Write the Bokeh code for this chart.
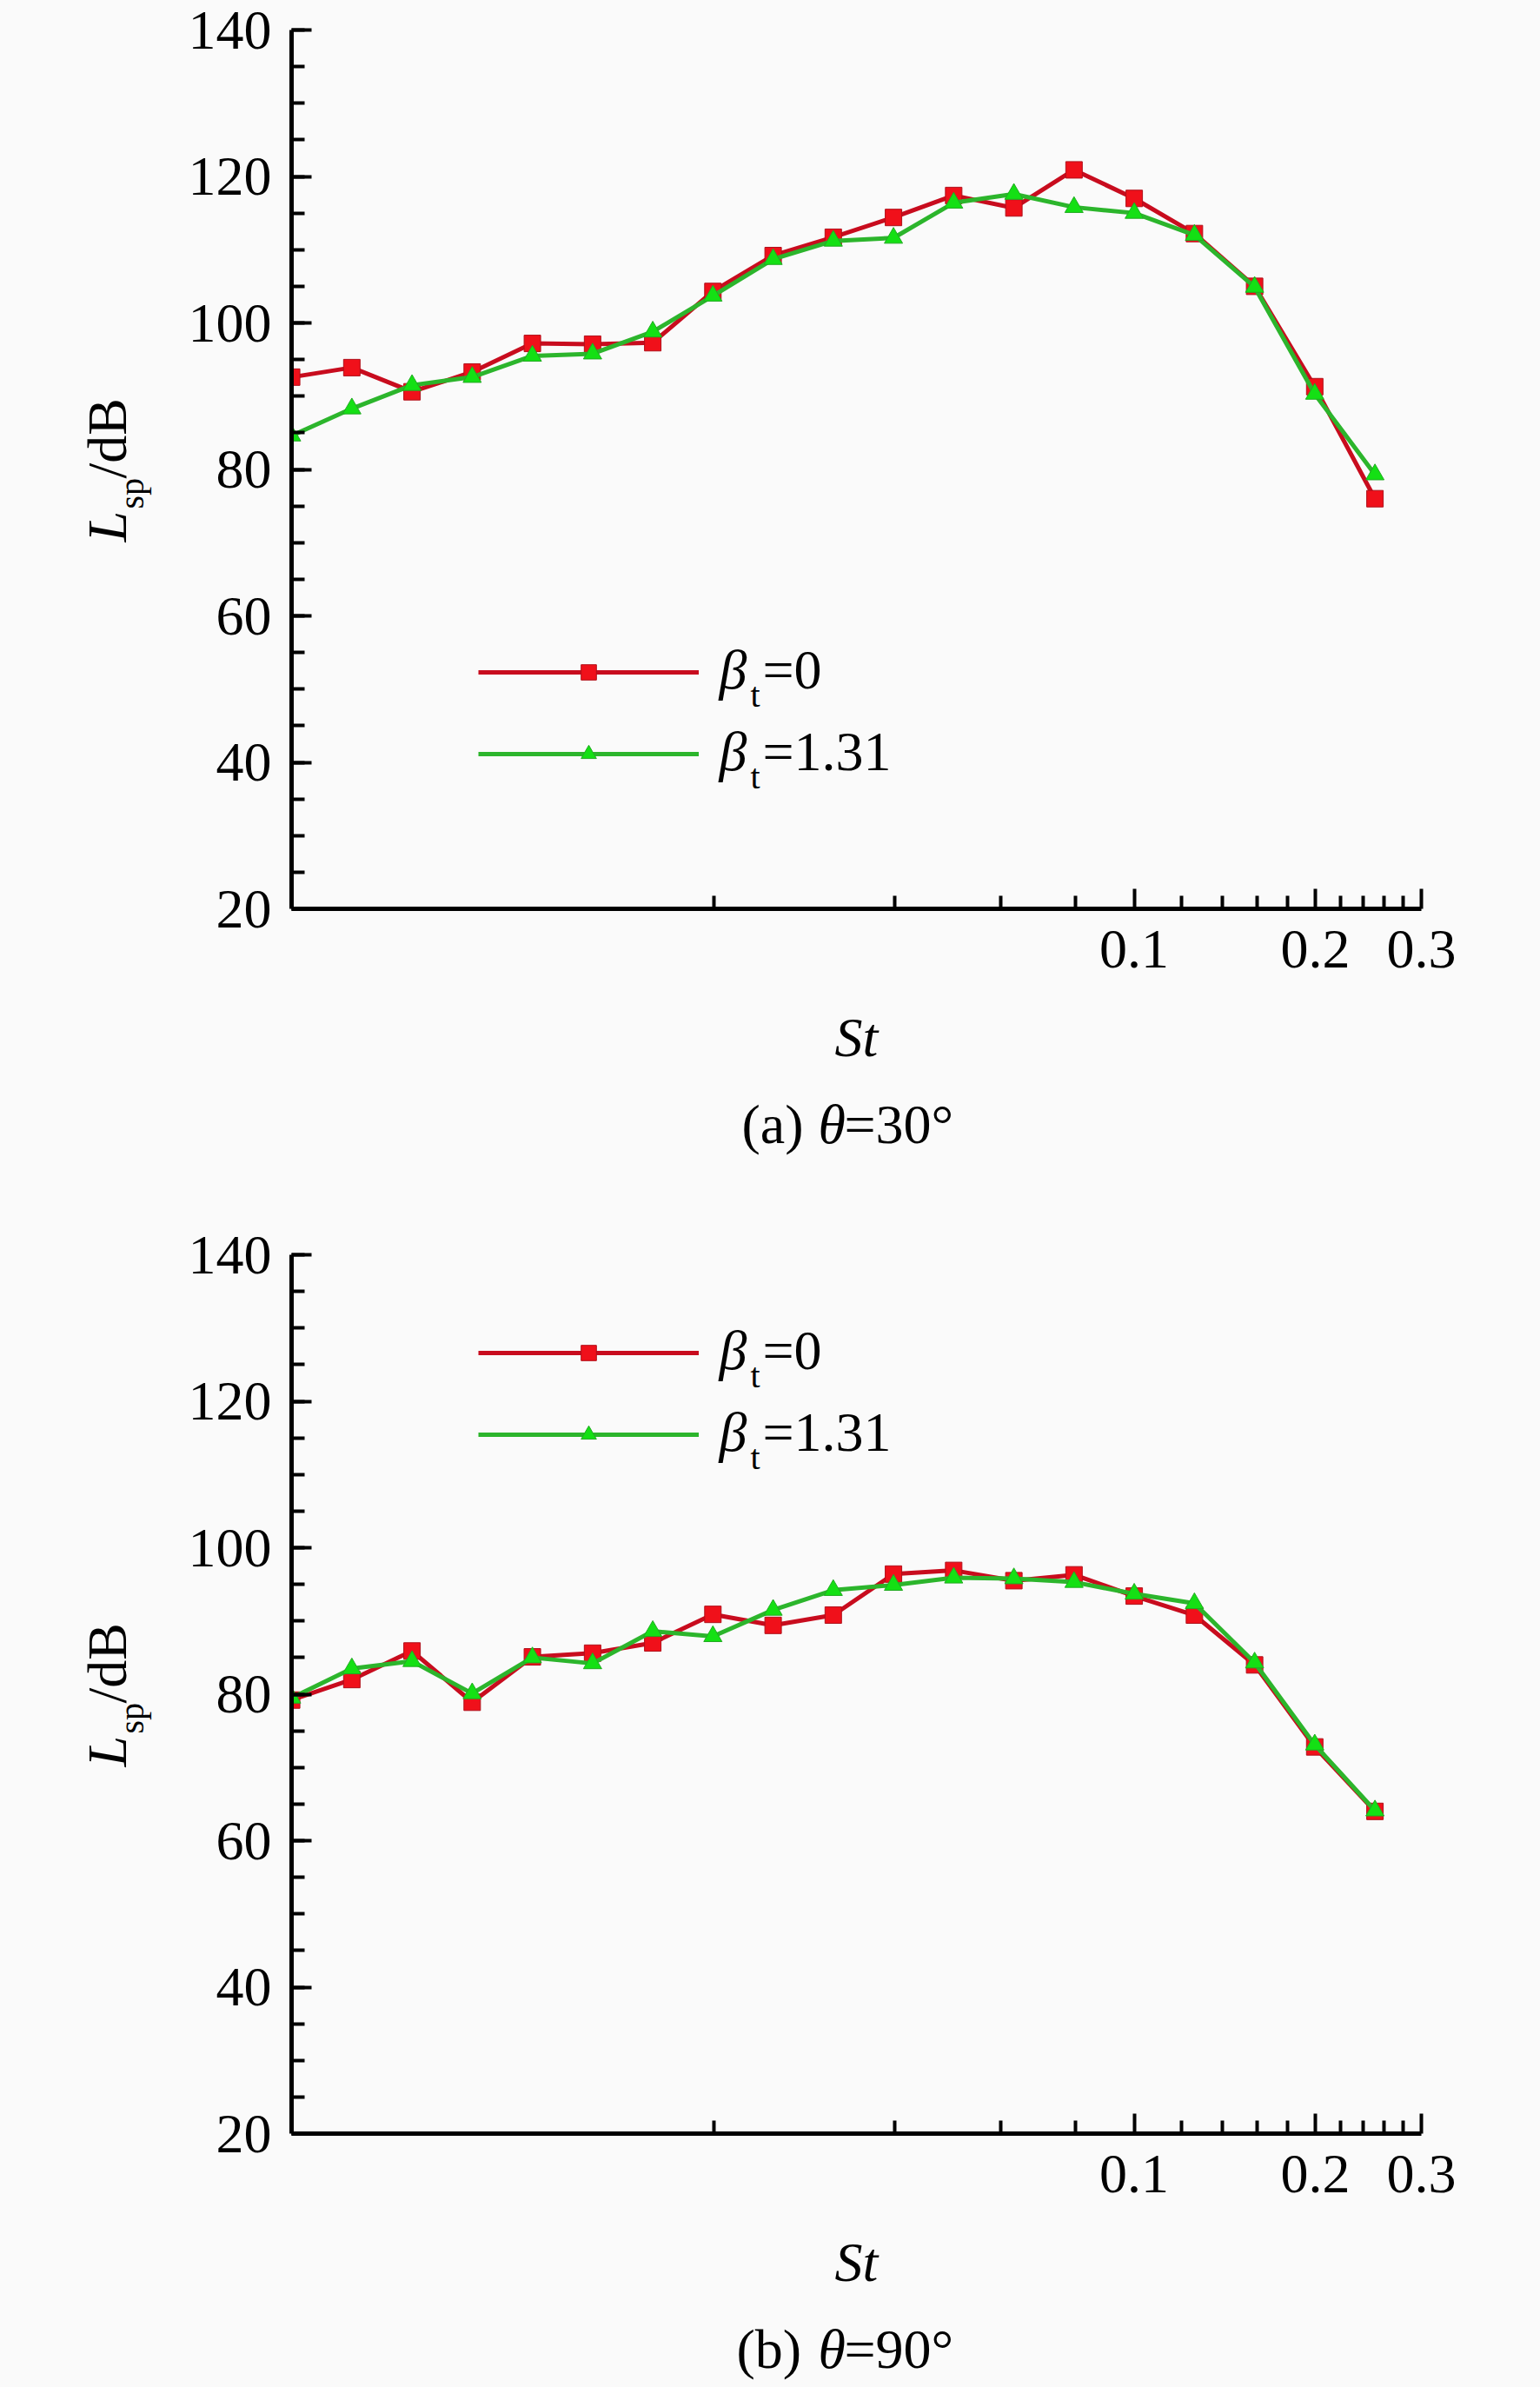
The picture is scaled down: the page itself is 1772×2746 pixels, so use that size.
from bokeh.plotting import figure
from bokeh.models import FixedTicker, Label, Legend, LegendItem, Range1d, Title
from bokeh.layouts import column
from bokeh.embed import file_html
from bokeh.resources import INLINE

# ---------------- data ----------------
st = [0.003981, 0.005012, 0.00631, 0.007943, 0.01, 0.01259, 0.01585, 0.01995,
      0.02512, 0.03162, 0.03981, 0.05012, 0.0631, 0.07943, 0.1, 0.1259,
      0.1585, 0.1995, 0.2512]

a_beta0 = [92.6, 93.9, 90.6, 93.3, 97.2, 97.1, 97.3, 104.3, 109.2, 111.7,
           114.4, 117.4, 115.7, 120.9, 117.0, 112.2, 105.0, 91.3, 76.0]
a_beta131 = [84.6, 88.3, 91.5, 92.6, 95.5, 95.8, 98.8, 103.7, 108.7, 111.2,
             111.6, 116.4, 117.6, 115.8, 115.0, 112.0, 104.9, 90.3, 79.3]

b_beta0 = [79.2, 82.0, 85.9, 78.9, 85.1, 85.6, 87.0, 90.9, 89.4, 90.8,
           96.4, 96.9, 95.5, 96.3, 93.4, 90.8, 84.0, 72.8, 64.0]
b_beta131 = [79.5, 83.5, 84.5, 80.1, 85.0, 84.2, 88.6, 87.9, 91.5, 94.2,
             94.9, 95.9, 95.8, 95.3, 93.7, 92.4, 84.3, 73.1, 64.1]

x_major = [0.1, 0.2, 0.3]
x_minor = [0.02, 0.04, 0.06, 0.08, 0.12, 0.14, 0.16, 0.18,
           0.22, 0.24, 0.26, 0.28]
y_major = [20, 40, 60, 80, 100, 120, 140]
y_minor = [v for v in range(20, 141, 5)]
legend_values = ["0", "1.31"]
panel_tags = ["(a)", "(b)"]
panel_angles = ["=30°", "=90°"]

# ---------------- style ----------------
FONT = "Liberation Serif"
FS = 64
SUB = 40
BG = "#fafafa"
W = 1770
FRAME_W = 1300
FRAME_H = 1011
BORDER_L = 335
RED_LINE = "#c80c1e"
RED_FILL = "#f0101a"
GRN_LINE = "#2cb52c"
GRN_FILL = "#14e014"
MID = 0.35
H64 = 73.0   # text box height bokeh uses at 64px (calibrated)
H40 = 45.6
H10 = 11.4


def lab(p, text, x, y, size=FS, style="normal"):
    p.add_layout(Label(x=x, y=y, x_units="screen", y_units="screen", text=text,
                       text_font=FONT, text_font_size="%dpx" % size,
                       text_font_style=style, text_align="left",
                       text_baseline="middle", text_color="black"))


def side_text(p, side, text, offset, slot, size=FS, style="normal"):
    """Title used as a free text piece in a side panel; slot = its panel thickness."""
    h = {FS: H64, SUB: H40, 10: H10}[size]
    p.add_layout(Title(text=text, align="left", offset=offset,
                       vertical_align="middle", text_font=FONT,
                       text_font_size="%dpx" % size, text_font_style=style,
                       text_color="black", standoff=slot - 2 - h), side)


def panel(red, green, top_border, height, legend_y, idx):
    p = figure(width=W, height=height, x_axis_type="log",
               x_range=Range1d(0.00398, 0.3), y_range=Range1d(20, 140),
               output_backend="svg", toolbar_location=None,
               min_border_left=BORDER_L, min_border_right=W - BORDER_L - FRAME_W,
               min_border_top=top_border,
               min_border_bottom=height - top_border - FRAME_H,
               background_fill_color=BG, border_fill_color=BG)
    p.outline_line_color = None
    p.grid.visible = False

    xa = p.xaxis[0]
    xa.ticker = FixedTicker(ticks=x_major, minor_ticks=x_minor)
    xa.major_label_overrides = {0.1: "0.1", 0.2: "0.2", 0.3: "0.3"}
    ya = p.yaxis[0]
    ya.ticker = FixedTicker(ticks=y_major, minor_ticks=y_minor)
    for ax in (xa, ya):
        ax.axis_line_width = 5
        ax.axis_line_color = "black"
        ax.major_tick_in = 23
        ax.major_tick_out = 0
        ax.minor_tick_in = 15
        ax.minor_tick_out = 0
        ax.major_tick_line_width = 4
        ax.minor_tick_line_width = 4
        ax.major_label_text_font = FONT
        ax.major_label_text_font_size = "%dpx" % FS
        ax.major_label_text_color = "black"
    xa.major_label_standoff = 25
    ya.major_label_standoff = 23
    xa.axis_label = "St"
    xa.axis_label_text_font = FONT
    xa.axis_label_text_font_size = "%dpx" % FS
    xa.axis_label_text_font_style = "italic"
    xa.axis_label_text_color = "black"
    xa.axis_label_standoff = 42

    r_line = p.line(st, red, line_color=RED_LINE, line_width=5)
    r_sc = p.scatter(st, red, marker="square", size=19, fill_color=RED_FILL,
                     line_color="#b0101a", line_width=1)
    g_line = p.line(st, green, line_color=GRN_LINE, line_width=5)
    g_sc = p.scatter(st, green, marker="triangle", size=21, fill_color=GRN_FILL,
                     line_color="#22aa22", line_width=1)

    legend = Legend(items=[LegendItem(label=" ", renderers=[r_line, r_sc]),
                           LegendItem(label=" ", renderers=[g_line, g_sc])],
                    location=(215, legend_y), orientation="vertical",
                    glyph_width=254, glyph_height=44, spacing=50, padding=0,
                    margin=0, border_line_color=None, background_fill_alpha=0,
                    label_text_font_size="1px", label_standoff=0,
                    label_width=1, label_height=44)
    p.add_layout(legend)

    # legend texts (beta_t = value); baselines in frame coords (y up)
    top_item_base = legend_y + 44 + 50 + 22 - 19.5
    for k, val in enumerate(legend_values):
        yb = top_item_base - k * 94
        lab(p, "β", 492, yb + MID * FS, style="italic")
        lab(p, "t", 528, yb - 20 + MID * SUB, size=SUB)
        lab(p, "=" + val, 542, yb + MID * FS)

    # y axis title  L_sp/dB  (left panel, reading upwards)
    side_text(p, "left", " ", 0, 34.6, size=10)
    side_text(p, "left", "sp", 460, 56.8, size=SUB)
    side_text(p, "left", "L", 422, 0, style="italic")
    side_text(p, "left", "/dB", 495, 0)

    # caption below the St axis title
    side_text(p, "below", " ", 0, 62.7, size=10)
    side_text(p, "below", panel_tags[idx], 518 if idx == 0 else 512, 0)
    side_text(p, "below", "θ", 606, 0, style="italic")
    side_text(p, "below", panel_angles[idx], 636, 0)
    return p


p1 = panel(a_beta0, a_beta131, 34, 1372, 156, 0)
p2 = panel(b_beta0, b_beta131, 71, 1372, 782, 1)

layout = column(p1, p2, spacing=0, background=BG)
html = file_html(layout, INLINE)
html = html.replace("<body>", '<body style="background:%s">' % BG)
open("out.html", "w").write(html)
